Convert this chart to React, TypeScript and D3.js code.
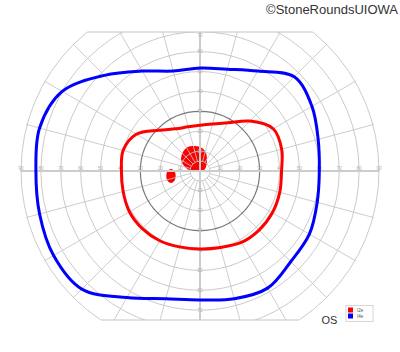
import React from "react";
import * as d3 from "d3";

// ---- data ----
const meridians = [0, 15, 30, 45, 60, 75, 90, 105, 120, 135, 150, 165, 180, 195, 210, 225, 240, 255, 270, 285, 300, 315, 330, 345];
const i4eEcc = [60, 61.5, 65, 67, 58, 53, 51.8, 52, 58, 68, 80, 83.5, 82.5, 83.5, 85, 84, 73.5, 66.5, 64.8, 66.5, 68, 64.5, 63.5, 61];
const i2eEcc = [41, 42.5, 42.5, 35.5, 28, 24.5, 23, 23, 24.5, 29, 37, 40, 39.5, 40, 41, 41, 40.5, 39.5, 39.2, 39.8, 41.5, 42, 42, 41.5];
// central scotoma (filled) boundary: [angle, eccentricity]
const centralAng = [150, 132, 117, 101, 85, 71.6, 57.5, 33.7, 0, 194, 175, 162.6];
const centralEcc = [11, 12.8, 13.5, 12.8, 11.6, 9.5, 6.5, 3.6, 1.5, 2.1, 5.5, 8.4];
// blind spot boundary
const blindAng = [176, 182.3, 199.8, 202.5, 195.3, 181.7];
const blindEcc = [14.6, 12.6, 13.4, 15.8, 17.2, 16.6];

const ringValues = [5, 10, 20, 30, 40, 50, 60, 70, 80, 90];
const hLabels = [10, 20, 30, 40, 50, 60, 70, 80, 90];
const vLabels = [10, 20, 30, 40, 50, 60, 70];
const spokeAngles = d3.range(0, 360, 15);
const legendNames = ["I2e", "I4e"];
const legendColors = ["#ff0000", "#0000ff"];

export default function App() {
  const W = 400, H = 352;
  const CX = 200, CY = 171;
  const TOP = 32, BOTTOM = 320;
  const r = d3.scaleLinear().domain([0, 90]).range([0, 179]);
  const R = r(90);
  const toXY = (ang: number, ecc: number): [number, number] => {
    const a = (ang * Math.PI) / 180;
    return [CX + r(ecc) * Math.cos(a), CY - r(ecc) * Math.sin(a)];
  };
  const closed = d3.line().curve(d3.curveCatmullRomClosed.alpha(0.5));
  const i4ePath = closed(meridians.map((m, i) => toXY(m, i4eEcc[i])))!;
  const i2ePath = closed(meridians.map((m, i) => toXY(m, i2eEcc[i])))!;
  const centralPath = closed(centralAng.map((m, i) => toXY(m, centralEcc[i])))!;
  const blindPath = closed(blindAng.map((m, i) => toXY(m, blindEcc[i])))!;

  const chordHalf = (y: number) => Math.sqrt(R * R - (y - CY) * (y - CY));
  const gridColor = "#c4c4c4";
  const labelColor = "#b0b0b0";

  return (
    <div style={{ position: "absolute", left: 0, top: 0 }}>
      <svg width={W} height={H} style={{ display: "block", background: "#fff" }} fontFamily="Liberation Sans, Arial, sans-serif">
        <defs>
          <clipPath id="rectClip">
            <rect x={0} y={TOP} width={W} height={BOTTOM - TOP} />
          </clipPath>
          <clipPath id="circClip">
            <circle cx={CX} cy={CY} r={R + 1} />
          </clipPath>
        </defs>

        {/* fills */}
        <path d={centralPath} fill="#ff0000" />
        <path d={blindPath} fill="#ff0000" />

        <g clipPath="url(#rectClip)">
          <g clipPath="url(#circClip)">
            {spokeAngles.map((a) => {
              const [x1, y1] = toXY(a, 5);
              const [x2, y2] = toXY(a, 92);
              return <line key={a} x1={x1} y1={y1} x2={x2} y2={y2} stroke={gridColor} strokeOpacity={0.85} strokeWidth={1} />;
            })}
            {ringValues.map((v) => (
              <circle key={v} cx={CX} cy={CY} r={r(v)} fill="none"
                stroke={v === 30 ? "#6a6a6a" : gridColor} strokeOpacity={0.9} strokeWidth={v === 30 ? 1.2 : 1} />
            ))}
            <line x1={CX - R} x2={CX + R} y1={CY} y2={CY} stroke="#cccccc" strokeWidth={2} />
            <line x1={CX} x2={CX} y1={TOP} y2={BOTTOM} stroke="#cccccc" strokeWidth={2} />
          </g>
        </g>
        {/* frame chords */}
        <line x1={CX - chordHalf(TOP)} x2={CX + chordHalf(TOP)} y1={TOP} y2={TOP} stroke={gridColor} strokeWidth={1} />
        <line x1={CX - chordHalf(BOTTOM)} x2={CX + chordHalf(BOTTOM)} y1={BOTTOM} y2={BOTTOM} stroke={gridColor} strokeWidth={1} />

        {/* axis labels */}
        <g fontSize={4.5} fill={labelColor} textAnchor="middle">
          {hLabels.map((v) => (
            <React.Fragment key={"h" + v}>
              <text x={CX + r(v)} y={CY - 1}>{v}</text>
              <text x={CX - r(v)} y={CY - 1}>{v}</text>
            </React.Fragment>
          ))}
          {vLabels.map((v) => (
            <React.Fragment key={"v" + v}>
              <text x={CX} y={Math.max(CY - r(v) + 1.5, TOP + 4.5)}>{v}</text>
              <text x={CX} y={CY + r(v) + 1.5}>{v}</text>
            </React.Fragment>
          ))}
        </g>

        {/* isopters */}
        <path d={i4ePath} fill="none" stroke="#0000ff" strokeWidth={3} />
        <path d={i2ePath} fill="none" stroke="#ff0000" strokeWidth={3} />

        {/* eye label & legend */}
        <text x={321.5} y={324} fontSize={11} fill="#333">OS</text>
        <rect x={346} y={305.5} width={27} height={16} fill="#fff" stroke="#bbb" strokeWidth={0.6} />
        {legendNames.map((n, i) => (
          <g key={n}>
            <rect x={348} y={307.5 + i * 6} width={5} height={5} fill={legendColors[i]} />
            <text x={357} y={311.5 + i * 6} fontSize={4.5} fill="#555">{n}</text>
          </g>
        ))}

        <text x={398} y={14} fontSize={13} textAnchor="end" fill="#333">©StoneRoundsUIOWA</text>
      </svg>
    </div>
  );
}
